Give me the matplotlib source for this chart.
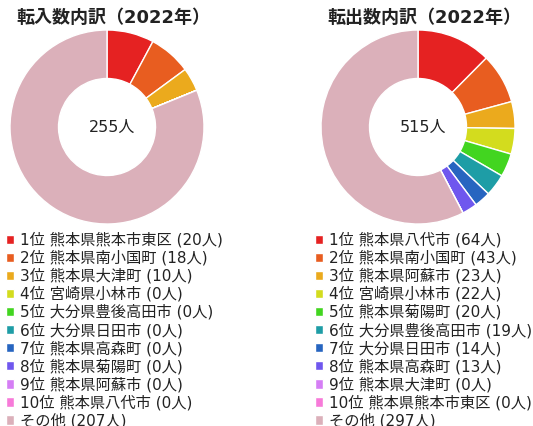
import matplotlib
matplotlib.use('Agg')
import matplotlib.pyplot as plt

plt.rcParams['font.family'] = ['DejaVu Sans', 'Noto Sans CJK JP']

colors = ['#e52222', '#e85d20', '#ebaa1d', '#d3dc1e', '#42d520', '#1e9da6',
          '#2765c0', '#6f57ee', '#d57ef5', '#f77ad9', '#dbb0ba']

in_title = '転入数内訳（2022年）'
in_names = ['熊本県熊本市東区', '熊本県南小国町', '熊本県大津町', '宮崎県小林市',
            '大分県豊後高田市', '大分県日田市', '熊本県高森町', '熊本県菊陽町',
            '熊本県阿蘇市', '熊本県八代市']
in_values = [20, 18, 10, 0, 0, 0, 0, 0, 0, 0]
in_other = 207
in_total = 255

out_title = '転出数内訳（2022年）'
out_names = ['熊本県八代市', '熊本県南小国町', '熊本県阿蘇市', '宮崎県小林市',
             '熊本県菊陽町', '大分県豊後高田市', '大分県日田市', '熊本県高森町',
             '熊本県大津町', '熊本県熊本市東区']
out_values = [64, 43, 23, 22, 20, 19, 14, 13, 0, 0]
out_other = 297
out_total = 515

W, H = 533, 426
fig = plt.figure(figsize=(W / 100, H / 100), dpi=100)


def px_axes(x0, y0, w, h):
    return fig.add_axes([x0 / W, 1 - (y0 + h) / H, w / W, h / H])


def draw_donut(cx, title, names, values, other, total, leg_x):
    ax = px_axes(cx - 97, 30, 194, 194)
    vals = values + [other]
    wedges, _ = ax.pie(vals, colors=colors, startangle=90, counterclock=False,
                       wedgeprops=dict(width=0.5, edgecolor='white', linewidth=1))
    ax.set_xlim(-1, 1)
    ax.set_ylim(-1, 1)
    fig.text((cx + 5) / W, 1 - 127 / H, f'{total}人', ha='center', va='center',
             fontsize=11.5, color='#222222')
    fig.text((cx + 6) / W, 1 - 18 / H, title, ha='center', va='center',
             fontsize=13, fontweight='bold', color='#222222')
    labels = [f'{i + 1}位 {n} ({v}人)' for i, (n, v) in enumerate(zip(names, values))]
    labels.append(f'その他 ({other}人)')
    fig.legend(wedges, labels, loc='upper left', bbox_to_anchor=(leg_x / W, 1 - 232 / H),
               frameon=False, fontsize=11, handlelength=0.55, handleheight=0.55,
               handletextpad=0.35, borderaxespad=0, borderpad=0, labelspacing=0.16,
               labelcolor='#222222')


draw_donut(107, in_title, in_names, in_values, in_other, in_total, 6)
draw_donut(418, out_title, out_names, out_values, out_other, out_total, 315)

fig.savefig('out.png', dpi=100)
